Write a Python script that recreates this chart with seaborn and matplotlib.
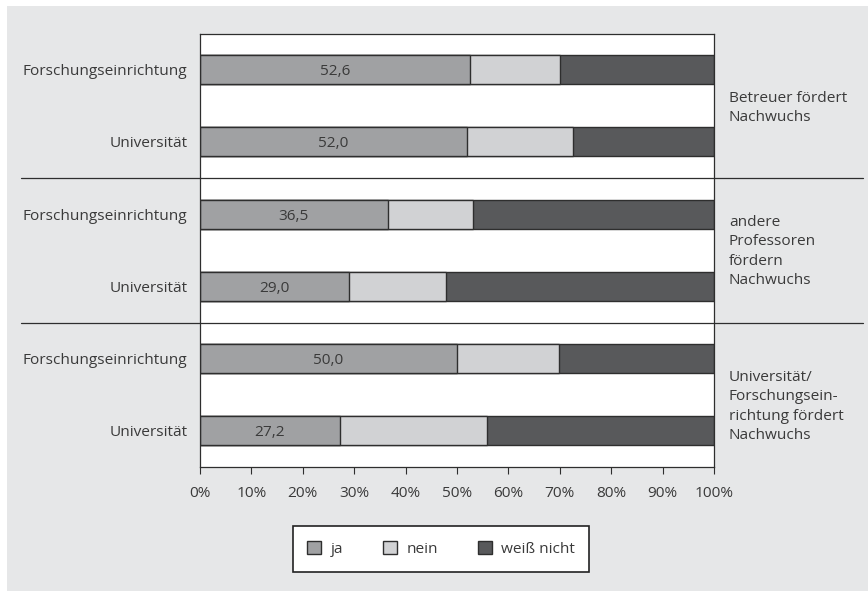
import matplotlib
matplotlib.use("Agg")
import matplotlib.pyplot as plt
import matplotlib.transforms as mtransforms
from matplotlib.patches import Rectangle, Patch
from matplotlib.lines import Line2D
import seaborn as sns
import pandas as pd

# ---- data ----
institutions = ["Forschungseinrichtung", "Universität",
                "Forschungseinrichtung", "Universität",
                "Forschungseinrichtung", "Universität"]
ja = [52.6, 52.0, 36.5, 29.0, 50.0, 27.2]
nein = [17.5, 20.6, 16.7, 18.8, 19.9, 28.7]
weiss_nicht = [29.9, 27.4, 46.8, 52.2, 30.1, 44.1]
group_labels = ["Betreuer fördert\nNachwuchs",
                "andere\nProfessoren\nfördern\nNachwuchs",
                "Universität/\nForschungsein-\nrichtung fördert\nNachwuchs"]
series_names = ["ja", "nein", "weiß nicht"]
x_ticks = [0, 10, 20, 30, 40, 50, 60, 70, 80, 90, 100]

# ---- style ----
sns.set_theme(style="white")
plt.rcParams['font.family'] = ['Open Sans', 'DejaVu Sans']
TXT = "#3a3a3a"
FS = 11.1
c_ja, c_nein, c_wn = "#a0a1a3", "#d1d2d4", "#58595b"
EDGE = "#2e2e2e"

rows = [f"r{i}" for i in range(len(ja))]
df = pd.DataFrame({
    "row": rows,
    "ja": ja,
    "ja_nein": [a + b for a, b in zip(ja, nein)],
    "total": [a + b + c for a, b, c in zip(ja, nein, weiss_nicht)],
})

W, H = 868, 591
fig = plt.figure(figsize=(W / 100, H / 100), dpi=100, facecolor="white")
fig.patches.append(Rectangle((7 / W, 0), 1 - 7 / W, 1 - 6 / H,
                             transform=fig.transFigure, facecolor="#e6e7e8",
                             edgecolor="none", zorder=-10))

ax = fig.add_axes([200 / W, (H - 467) / H, 514 / W, 433.5 / H])
ax.set_facecolor("white")

for col, colr in [("total", c_wn), ("ja_nein", c_nein), ("ja", c_ja)]:
    sns.barplot(data=df, x=col, y="row", order=rows, orient="h", color=colr,
                width=0.4, edgecolor=EDGE, linewidth=1.0, saturation=1,
                ax=ax, errorbar=None)

# value labels inside "ja"
for i, v in enumerate(ja):
    ax.text(v / 2, i, f"{v:.1f}".replace(".", ","), ha="center",
            va="center_baseline", fontsize=FS, color=TXT)

ax.set_xlim(0, 100)
ax.set_ylim(5.5, -0.5)
ax.set_xticks(x_ticks)
ax.set_xticklabels([f"{t}%" for t in x_ticks], fontsize=FS, color=TXT)
ax.set_yticks(range(len(rows)))
ax.set_yticklabels(institutions, fontsize=FS, color=TXT)
ax.set_xlabel("")
ax.set_ylabel("")
ax.tick_params(axis="y", length=0, pad=9)
ax.tick_params(axis="x", length=5, width=0.8, color=EDGE, pad=9, bottom=True)
for s in ax.spines.values():
    s.set_visible(True)
    s.set_color(EDGE)
    s.set_linewidth(0.9)

# group separators (span the whole panel)
trans = mtransforms.blended_transform_factory(fig.transFigure, ax.transData)
for yy in [1.5, 3.5]:
    fig.add_artist(Line2D([21 / W, 863 / W], [yy, yy], transform=trans,
                          color=EDGE, linewidth=0.9, zorder=5))

# group labels on the right
for lbl, yy in zip(group_labels, [0.53, 2.52, 4.66]):
    fig.text(729 / W, yy, lbl, transform=trans, ha="left", va="center",
             fontsize=FS, color=TXT, linespacing=1.4)

# legend
handles = [Patch(facecolor=c, edgecolor=EDGE, linewidth=1.0)
           for c in (c_ja, c_nein, c_wn)]
leg = fig.legend(handles, series_names, loc="center",
                 bbox_to_anchor=(441 / W, 1 - 549 / H), ncol=3,
                 frameon=True, fancybox=False, framealpha=1,
                 edgecolor="#222222", fontsize=FS,
                 handlelength=0.9, handleheight=0.9, handletextpad=0.6,
                 columnspacing=2.6, borderpad=0.95)
leg.get_frame().set_linewidth(1.2)
for t in leg.get_texts():
    t.set_color(TXT)

fig.savefig("out.png", dpi=100, facecolor="white")
